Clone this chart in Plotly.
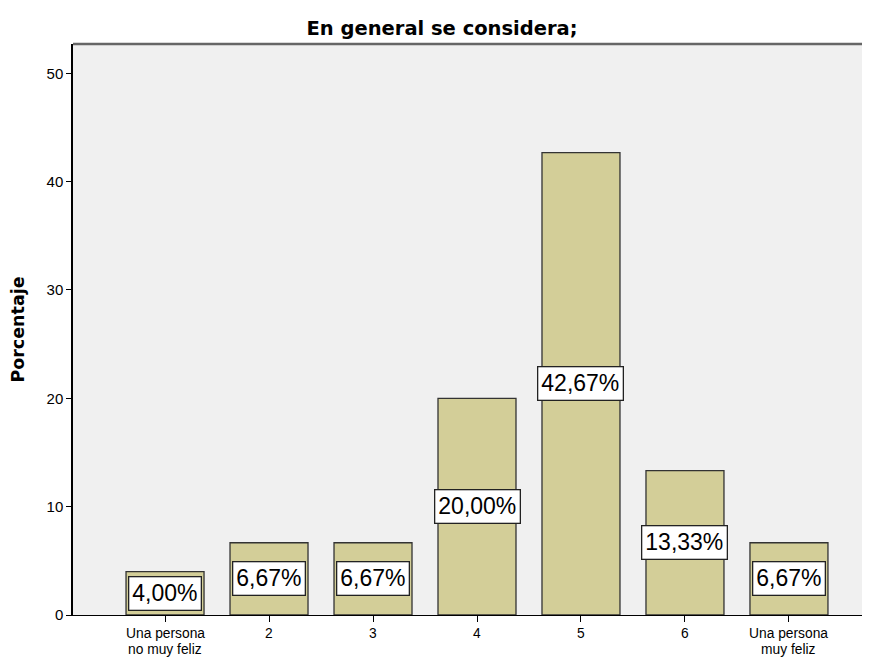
import plotly.graph_objects as go

categories = ["Una persona<br>no muy feliz", "2", "3", "4", "5", "6", "Una persona<br>muy feliz"]
values = [4.00, 6.67, 6.67, 20.00, 42.67, 13.33, 6.67]
value_labels = ["4,00%", "6,67%", "6,67%", "20,00%", "42,67%", "13,33%", "6,67%"]
y_ticks = [0, 10, 20, 30, 40, 50]

FONT = "Arial, Liberation Sans, sans-serif"
BOLD_FONT = "DejaVu Sans, Arial, sans-serif"
x_idx = list(range(len(categories)))

fig = go.Figure()
fig.add_trace(go.Bar(
    x=x_idx, y=values, width=0.75,
    marker=dict(color="#D3CE98", line=dict(color="#333333", width=1.3)),
    hoverinfo="skip",
))

for i, (v, lab) in enumerate(zip(values, value_labels)):
    fig.add_annotation(
        x=i, y=max(v / 2, 1.6), xref="x", yref="y",
        text=lab, showarrow=False,
        font=dict(family=FONT, size=23, color="black"),
        bgcolor="white", bordercolor="#222222", borderwidth=1.3, borderpad=3,
        xanchor="center", yanchor="middle",
    )

# category tick labels, one line each so the two lines sit close together
for i, cat in enumerate(categories):
    for j, line in enumerate(cat.split("<br>")):
        fig.add_annotation(
            x=i, y=0, xref="x", yref="paper",
            text=line, showarrow=False,
            font=dict(family=FONT, size=13.8, color="black"),
            xanchor="center", yanchor="middle", yshift=-18.5 - 15.5 * j,
        )

fig.add_shape(type="line", xref="paper", yref="paper", x0=0, x1=1, y0=1, y1=1,
              line=dict(color="#666666", width=2.5))

fig.update_layout(
    width=862, height=649,
    margin=dict(l=65, r=2, t=36, b=42),
    paper_bgcolor="white", plot_bgcolor="#F0F0F0",
    font=dict(family=FONT, color="black"),
    title=dict(text="<b>En general se considera;</b>", x=0.5035, xanchor="center", xref="container",
               y=0.969, yanchor="middle", yref="container",
               font=dict(family=BOLD_FONT, size=19.5, color="black")),
    showlegend=False, bargap=0.25,
    xaxis=dict(
        tickmode="array", tickvals=x_idx, showticklabels=False,
        range=[-0.885, 6.76], showgrid=False, zeroline=False,
        showline=True, linecolor="black", linewidth=1.3,
        ticks="outside", ticklen=6, tickcolor="black", tickwidth=1.3,
        automargin=False,
    ),
    yaxis=dict(
        tickmode="array", tickvals=y_ticks, range=[0, 52.7],
        showgrid=False, zeroline=False,
        showline=True, linecolor="black", linewidth=1.5,
        ticks="outside", ticklen=5, tickcolor="black", tickwidth=1.3,
        tickfont=dict(family=FONT, size=15, color="black"),
        title=dict(text="<b>Porcentaje</b>", font=dict(family=BOLD_FONT, size=17.5, color="black"), standoff=20),
        automargin=False,
    ),
)

fig.write_html("out.html")
